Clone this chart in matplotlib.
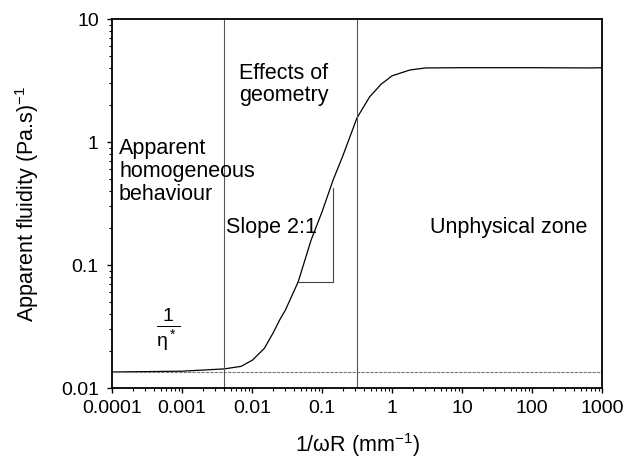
import matplotlib
matplotlib.use("Agg")
import matplotlib.pyplot as plt

plt.rcParams["font.family"] = ["Liberation Sans", "DejaVu Sans"]
plt.rcParams["mathtext.fontset"] = "custom"
plt.rcParams["mathtext.rm"] = "Liberation Sans"
plt.rcParams["mathtext.it"] = "Liberation Sans"

# curve
inv_wr = [0.0001, 0.001, 0.004, 0.007, 0.0102, 0.015, 0.02, 0.025, 0.03, 0.0457,
          0.07, 0.1, 0.144, 0.2, 0.316, 0.48, 0.7, 1.0, 1.8, 3.0, 10, 100, 700, 1000]
fluidity = [0.0135, 0.0137, 0.0143, 0.015, 0.0169, 0.021, 0.028, 0.036, 0.043, 0.073,
            0.16, 0.27, 0.49, 0.78, 1.57, 2.33, 2.95, 3.45, 3.85, 4.0, 4.02, 4.02, 4.0, 4.02]

inv_eta = 0.0136           # 1/eta* level
zone_bounds = [0.004, 0.316]
tri_x = [0.0457, 0.144]
tri_y = [0.073, 0.42]

fig = plt.figure(figsize=(6.31, 4.58), dpi=100)
ax = fig.add_axes([0.1775, 0.1528, 0.7765, 0.8057])

ax.plot(inv_wr, fluidity, color="black", lw=0.9)
ax.axhline(inv_eta, color="#777777", lw=0.8, ls=(0, (3, 1)))
for xb in zone_bounds:
    ax.axvline(xb, color="#555555", lw=0.8)

# slope triangle
ax.plot([tri_x[0], tri_x[1], tri_x[1]], [tri_y[0], tri_y[0], tri_y[1]], color="#444444", lw=0.8)

ax.set_xscale("log")
ax.set_yscale("log")
ax.set_xlim(0.0001, 1000)
ax.set_ylim(0.01, 10)
ax.set_xticks([0.0001, 0.001, 0.01, 0.1, 1, 10, 100, 1000])
ax.set_xticklabels(["0.0001", "0.001", "0.01", "0.1", "1", "10", "100", "1000"])
ax.set_yticks([0.01, 0.1, 1, 10])
ax.set_yticklabels(["0.01", "0.1", "1", "10"])
ax.tick_params(which="both", direction="out", top=False, right=False, labelsize=14)
ax.tick_params(which="major", length=3.5, width=1)
ax.tick_params(which="minor", length=2.2, width=0.8)
ax.tick_params(axis="x", which="major", pad=5)
ax.tick_params(axis="y", which="major", pad=6)
for s in ax.spines.values():
    s.set_linewidth(1.3)

ax.set_xlabel("1/\u03c9R (mm$^{-1}$)", fontsize=15.5, labelpad=10)
ax.set_ylabel("Apparent fluidity (Pa.s)$^{-1}$", fontsize=15.5, labelpad=14)

ax.text(0.0065, 4.4, "Effects of\ngeometry", fontsize=15.5, va="top", ha="left", linespacing=1.1)
ax.text(0.000126, 1.07, "Apparent\nhomogeneous\nbehaviour", fontsize=15.5, va="top", ha="left", linespacing=1.1)
ax.text(0.0042, 0.2, "Slope 2:1", fontsize=15.5, va="center", ha="left")
ax.text(3.5, 0.2, "Unphysical zone", fontsize=15.5, va="center", ha="left")
ax.text(0.00063, 0.03, r"$\frac{1}{\eta^*}$", fontsize=20, va="center", ha="center")

fig.savefig("out.png", dpi=100)
